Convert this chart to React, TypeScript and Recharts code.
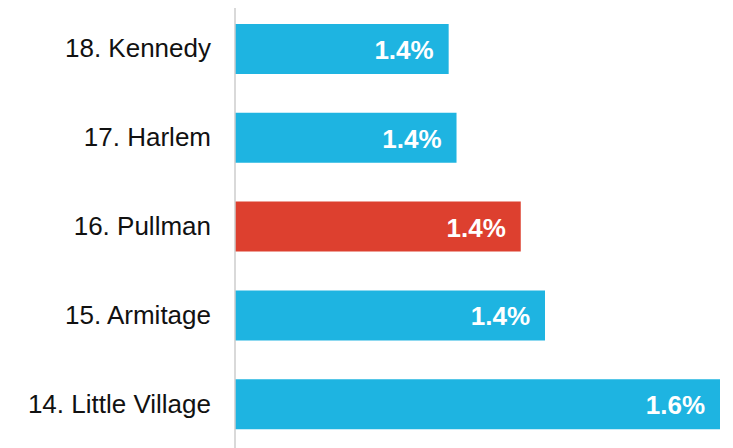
import React from "react";
import { BarChart, Bar, XAxis, YAxis, Cell, LabelList } from "recharts";

const categories = ["18. Kennedy", "17. Harlem", "16. Pullman", "15. Armitage", "14. Little Village"];
const values = [1.363, 1.369, 1.418, 1.4365, 1.57];
const highlighted = [false, false, true, false, false];

const BLUE = "#1EB4E1";
const RED = "#DD402F";

const data = categories.map((name, i) => ({ name, value: values[i], hl: highlighted[i] }));

const FONT = "'Liberation Sans', Arial, Helvetica, sans-serif";

const CategoryTick = (props: any) => {
  const { x, y, payload } = props;
  return (
    <text x={x} y={y + 8} textAnchor="end" fontFamily={FONT} fontSize={26} fill="#111">
      {payload.value}
    </text>
  );
};

const ValueLabel = (props: any) => {
  const { x, y, width, height, value } = props;
  return (
    <text
      x={x + width - 15}
      y={y + height / 2 + 10}
      textAnchor="end"
      fontFamily={FONT}
      fontSize={26}
      fontWeight="bold"
      fill="#fff"
    >
      {Number(value).toFixed(1) + "%"}
    </text>
  );
};

export default function App() {
  return (
    <div style={{ marginTop: -8, marginLeft: -8 }}>
      <BarChart
        width={733}
        height={448}
        data={data}
        layout="vertical"
        margin={{ top: 5, right: 13, bottom: -1, left: 0 }}
        barSize={50}
      >
        <XAxis type="number" domain={[1.2, 1.57]} hide allowDataOverflow />
        <YAxis
          type="category"
          dataKey="name"
          width={235}
          axisLine={{ stroke: "#cccccc", strokeWidth: 1.5 }}
          tickLine={false}
          tickSize={0}
          tickMargin={24}
          tick={<CategoryTick />}
          interval={0}
        />
        <Bar dataKey="value" isAnimationActive={false}>
          {data.map((d, i) => (
            <Cell key={i} fill={d.hl ? RED : BLUE} />
          ))}
          <LabelList dataKey="value" content={<ValueLabel />} />
        </Bar>
      </BarChart>
    </div>
  );
}
